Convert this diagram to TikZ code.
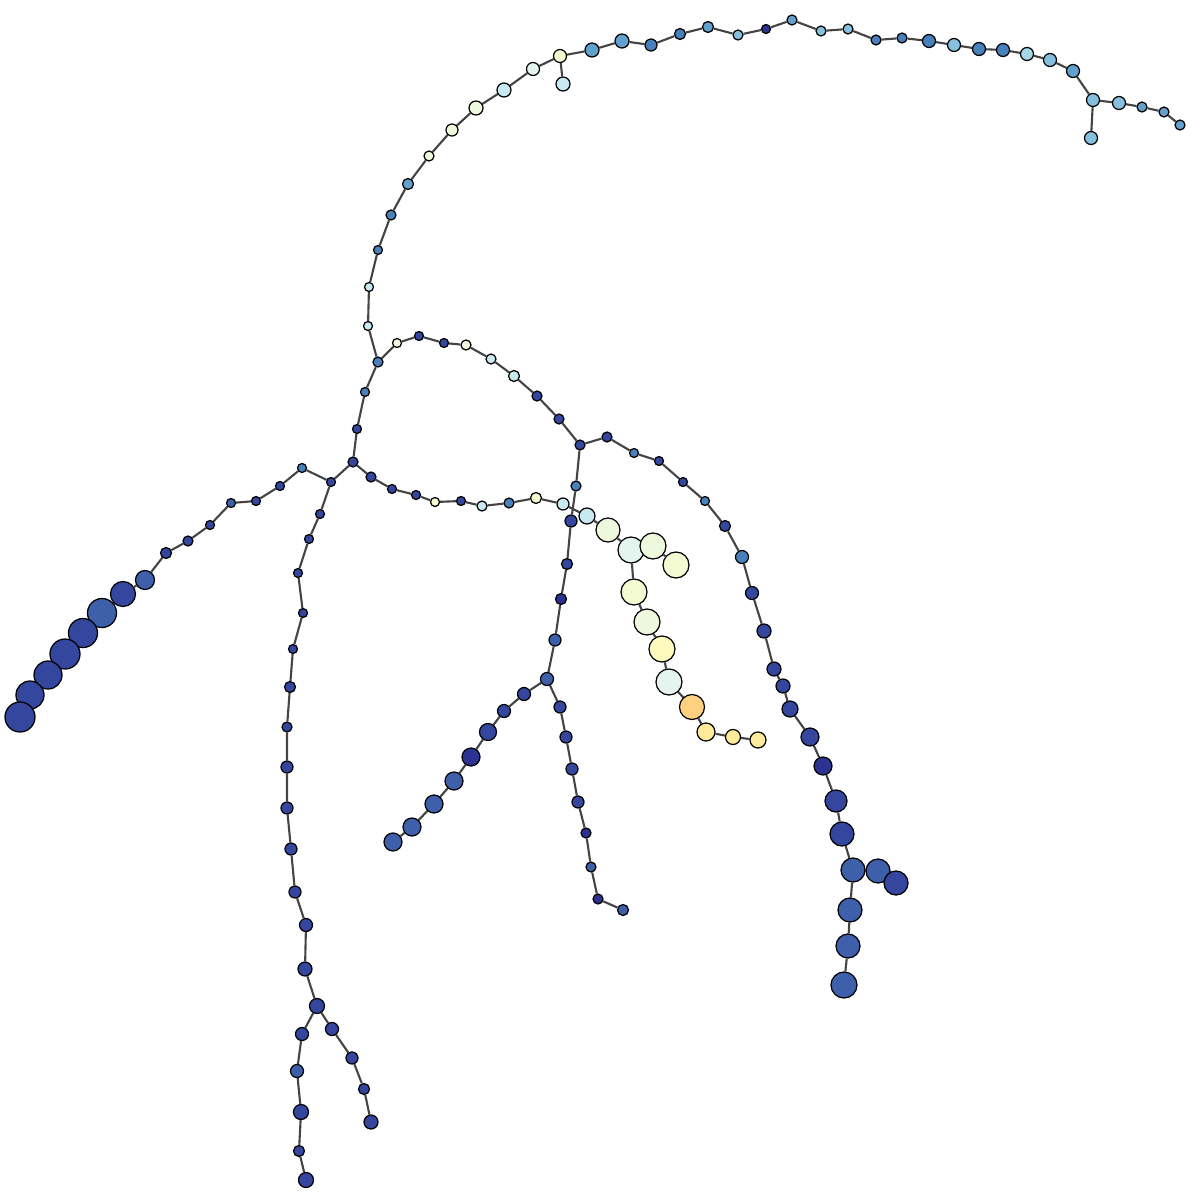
\documentclass[tikz,border=0pt]{standalone}
\usetikzlibrary{backgrounds}
\definecolor{dkblue}{RGB}{44,50,145}
\definecolor{blue}{RGB}{52,70,157}
\definecolor{mdblue}{RGB}{62,96,170}
\definecolor{stblue}{RGB}{72,128,188}
\definecolor{ltblue}{RGB}{98,160,205}
\definecolor{skyblue}{RGB}{135,192,222}
\definecolor{lsky}{RGB}{166,215,232}
\definecolor{pblue}{RGB}{200,233,242}
\definecolor{aqua}{RGB}{228,244,238}
\definecolor{pgreen}{RGB}{238,248,220}
\definecolor{pyellow}{RGB}{244,250,210}
\definecolor{yellow}{RGB}{254,249,188}
\definecolor{ltyellow}{RGB}{254,234,155}
\definecolor{orange}{RGB}{253,209,128}
\definecolor{edgegray}{RGB}{68,68,68}
\tikzset{dot/.style={circle,draw=black,line width=.35pt,inner sep=0pt,minimum size=#1*0.02cm},
  link/.style={draw=edgegray,line width=.6pt}}
\begin{document}
\begin{tikzpicture}[x=.01cm,y=-.01cm]
\useasboundingbox (0,0) rectangle (1200,1200);
% top arc
\foreach \n/\x/\y/\r/\c in {a1/408/184/5.5/ltblue,a2/429/156/5/pgreen,a3/452/130/6/pgreen,a4/476/108/7/pgreen,a5/504/90/7/pblue,
  a6/533/69/6.5/aqua,a7/560/56/6.5/pyellow,a8/563/84/7/pblue,a9/592/50/7/ltblue,a10/622/41/7/ltblue,a11/651/45/6/stblue,
  a12/680/34/5.5/stblue,a13/708/27/5.5/ltblue,a14/738/35/5/skyblue,a15/766/29/4.5/dkblue,a16/792/20/5/ltblue,a17/821/31/5/skyblue,
  a18/848/29/5/skyblue,a19/876/40/5/stblue,a20/902/38/5/stblue,a21/929/41/6.5/stblue,a22/954/45/6.5/skyblue,a23/979/49/6.5/stblue,
  a24/1003/50/6.5/stblue,a25/1027/54/6.5/lsky,a26/1050/60/6.5/skyblue,a27/1073/71/6.5/ltblue,a28/1093/100/6.5/skyblue,
  a29/1091/138/6.5/skyblue,a30/1119/103/6.5/skyblue,a31/1142/107/5/ltblue,a32/1164/112/5/ltblue,a33/1180/125/5/ltblue}
  \node[dot=\r,fill=\c] (\n) at (\x,\y) {};
% stem and loop
\foreach \n/\x/\y/\r/\c in {s1/391/215/5/stblue,s2/378/250/4.5/stblue,s3/369/287/4.5/pblue,s4/368/326/4.5/pblue,s5/378/362/5/stblue,
  s6/365/392/4.5/stblue,s7/357/429/4.5/blue,s8/353/462/5/blue,
  u1/397/343/4.5/pgreen,u2/419/336/4.5/blue,u3/444/343/4.5/blue,u4/466/345/5/pgreen,u5/491/359/5/pblue,u6/514/376/5.5/pblue,
  u7/537/396/5/blue,u8/559/419/5/blue,u9/580/445/5/blue,
  l1/371/477/5/blue,l2/392/489/4.5/blue,l3/416/495/4.5/blue,l4/435/502/4.5/pyellow,l5/461/501/4.5/blue,l6/482/506/5/pblue,
  l7/509/503/5/stblue,l8/536/498/5.5/pyellow,l9/563/504/6/pblue,l10/587/516/8/pblue}
  \node[dot=\r,fill=\c] (\n) at (\x,\y) {};
% pale chain
\foreach \n/\x/\y/\r/\c in {y1/608/530/12/pgreen,y2/631/550/13/aqua,y3/653/546/13/pgreen,y4/676/565/13/pyellow,y5/634/592/13/pyellow,
  y6/647/622/13/pgreen,y7/662/649/13/yellow,y8/669/682/13/aqua,y9/692/707/12.5/orange,y10/706/732/9/ltyellow,
  y11/733/737/7.5/ltyellow,y12/758/740/8/ltyellow}
  \node[dot=\r,fill=\c] (\n) at (\x,\y) {};
% middle trunk
\foreach \n/\x/\y/\r/\c in {m1/576/486/5/stblue,m2/571/521/6/blue,m3/567/564/5.5/blue,m4/561/599/5.5/dkblue,m5/555/640/6/mdblue,
  m6/547/679/6.5/mdblue,p1/524/694/6.5/blue,p2/504/711/6.5/blue,p3/488/732/8.5/blue,p4/471/757/9/dkblue,p5/454/781/9/mdblue,
  p6/434/804/9/mdblue,p7/412/827/9/mdblue,p8/393/842/9/mdblue,q1/560/707/6/blue,q2/566/737/6/blue,q3/572/769/6/blue,
  q4/578/802/6/blue,q5/586/833/5/dkblue,q6/591/867/5/mdblue,q7/598/899/5/dkblue,q8/623/910/5.5/mdblue}
  \node[dot=\r,fill=\c] (\n) at (\x,\y) {};
% right arc
\foreach \n/\x/\y/\r/\c in {r1/607/437/5/blue,r2/634/453/4.5/stblue,r3/659/461/4.5/blue,r4/683/482/4.5/blue,r5/705/501/4.5/stblue,
  r6/725/526/5.5/blue,r7/742/557/6.5/stblue,r8/752/593/6.5/blue,r9/764/631/7/blue,r10/774/669/7/blue,r11/783/686/7/blue,
  r12/790/709/8/blue,r13/810/737/9/blue,r14/823/766/9/dkblue,r15/836/801/11/blue,r16/842/834/12/blue,r17/853/870/12/mdblue,
  r18/878/871/12/mdblue,r19/896/883/12/blue,r20/850/910/12/mdblue,r21/848/946/12/mdblue,r22/844/985/13/mdblue}
  \node[dot=\r,fill=\c] (\n) at (\x,\y) {};
% left arm
\foreach \n/\x/\y/\r/\c in {w1/331/482/4.5/blue,w2/302/468/4.5/stblue,w3/280/486/4.5/blue,w4/256/501/4.5/blue,w5/231/503/4.5/mdblue,
  w6/210/525/4.5/blue,w7/188/541/5/blue,w8/166/553/5.5/blue,w9/145/580/9.5/mdblue,w10/123/594/12.5/blue,w11/102/613/14.5/mdblue,
  w12/83/633/14.5/blue,w13/65/654/15/blue,w14/48/675/14/blue,w15/30/695/14/blue,w16/20/717/15/blue}
  \node[dot=\r,fill=\c] (\n) at (\x,\y) {};
% lower trunk
\foreach \n/\x/\y/\r/\c in {d1/320/514/4.5/blue,d2/309/539/4.5/blue,d3/298/573/4.5/blue,d4/303/613/4.5/blue,d5/293/649/4.5/blue,
  d6/290/687/5.5/blue,d7/287/727/5/blue,d8/287/767/6/blue,d9/287/808/6/blue,d10/291/849/6/blue,d11/295/892/6/blue,
  d12/306/925/6.5/blue,d13/305/969/7/blue,d14/317/1006/7.5/blue,e1/302/1034/6.5/blue,e2/297/1071/6.5/mdblue,e3/301/1112/7.5/blue,
  e4/299/1151/5.5/blue,e5/306/1180/7.5/blue,f1/332/1029/6.5/blue,f2/352/1058/6/blue,f3/364/1089/5.5/blue,f4/371/1122/7/blue}
  \node[dot=\r,fill=\c] (\n) at (\x,\y) {};
\begin{scope}[on background layer,every path/.style=link]
\draw (a1)--(a2)--(a3)--(a4)--(a5)--(a6)--(a7)--(a9)--(a10)--(a11)--(a12)--(a13)--(a14)--(a15)--(a16)--(a17)--(a18)--(a19)
  --(a20)--(a21)--(a22)--(a23)--(a24)--(a25)--(a26)--(a27)--(a28)--(a30)--(a31)--(a32)--(a33);
\draw (a7)--(a8) (a28)--(a29);
\draw (a1)--(s1)--(s2)--(s3)--(s4)--(s5)--(s6)--(s7)--(s8);
\draw (s5)--(u1)--(u2)--(u3)--(u4)--(u5)--(u6)--(u7)--(u8)--(u9);
\draw (s8)--(l1)--(l2)--(l3)--(l4)--(l5)--(l6)--(l7)--(l8)--(l9)--(l10)--(y1)--(y2)--(y3)--(y4);
\draw (y2)--(y5)--(y6)--(y7)--(y8)--(y9)--(y10)--(y11)--(y12);
\draw (u9)--(m1)--(m2)--(m3)--(m4)--(m5)--(m6)--(p1)--(p2)--(p3)--(p4)--(p5)--(p6)--(p7)--(p8);
\draw (m6)--(q1)--(q2)--(q3)--(q4)--(q5)--(q6)--(q7)--(q8);
\draw (u9)--(r1)--(r2)--(r3)--(r4)--(r5)--(r6)--(r7)--(r8)--(r9)--(r10)--(r11)--(r12)--(r13)--(r14)--(r15)--(r16)--(r17)
  --(r18)--(r19);
\draw (r17)--(r20)--(r21)--(r22);
\draw (s8)--(w1)--(w2)--(w3)--(w4)--(w5)--(w6)--(w7)--(w8)--(w9)--(w10)--(w11)--(w12)--(w13)--(w14)--(w15)--(w16);
\draw (w1)--(d1)--(d2)--(d3)--(d4)--(d5)--(d6)--(d7)--(d8)--(d9)--(d10)--(d11)--(d12)--(d13)--(d14)--(e1)--(e2)--(e3)--(e4)--(e5);
\draw (d14)--(f1)--(f2)--(f3)--(f4);
\end{scope}
\end{tikzpicture}
\end{document}
